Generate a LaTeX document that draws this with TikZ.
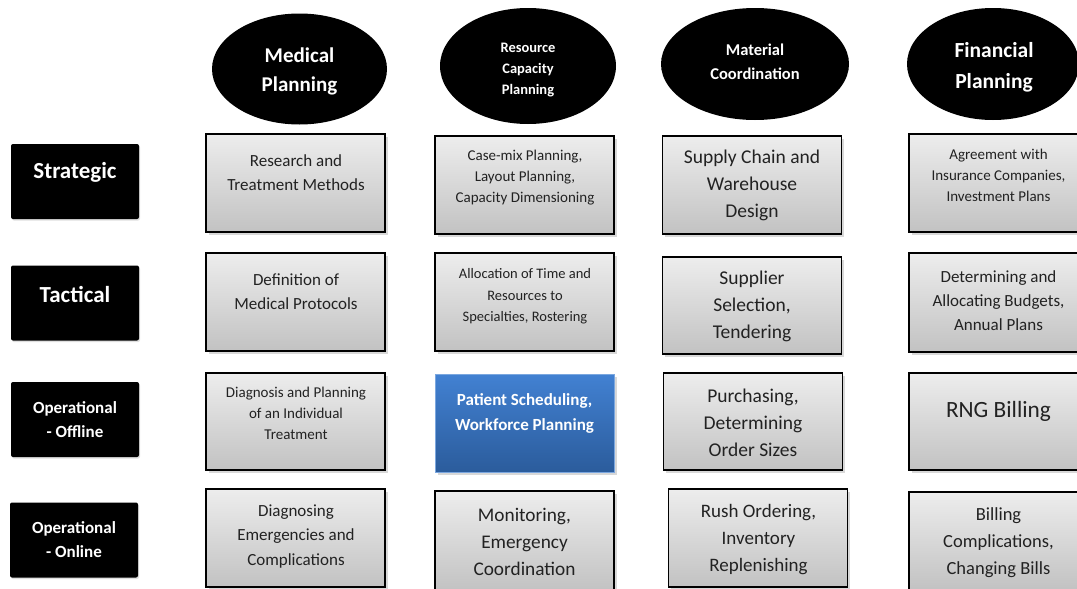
\documentclass[tikz,border=0pt]{standalone}
\usepackage{fontspec}
\setmainfont{Carlito}
\usetikzlibrary{shapes.geometric,shadows}
\definecolor{gtop}{HTML}{EDEDED}
\definecolor{gbot}{HTML}{C2C2C2}
\definecolor{btop}{HTML}{4281D2}
\definecolor{bbot}{HTML}{2B5C9C}
\definecolor{txtc}{HTML}{222222}
\newcommand\fsz[2]{\fontsize{#1}{#2}\selectfont}
\begin{document}
\begin{tikzpicture}[x=1pt,y=-1pt,
  gbox/.style={rectangle, draw=black, line width=1.6pt, top color=gtop, bottom color=gbot,
    minimum width=179pt, minimum height=98pt, inner sep=0pt,
    drop shadow={shadow xshift=2.5pt, shadow yshift=-3pt, opacity=0.3}},
  bbox/.style={rectangle, top color=btop, bottom color=bbot, draw=btop!70!white, line width=0.6pt,
    minimum width=179pt, minimum height=98pt, inner sep=0pt,
    drop shadow={shadow xshift=2.5pt, shadow yshift=-3pt, opacity=0.3}},
  lab/.style={rectangle, rounded corners=2pt, fill=black, minimum width=128pt, minimum height=75pt,
    inner sep=0pt, drop shadow={shadow xshift=1pt, shadow yshift=-1.5pt, opacity=0.25}},
  ell/.style={ellipse, fill=black, inner sep=0pt},
  txt/.style={align=center, text=txtc, inner sep=0pt, yshift=-1.8pt},
  wtxt/.style={align=center, text=white, inner sep=0pt, font=\bfseries, yshift=-1.8pt}]
\useasboundingbox (0,0) rectangle (1077,589);
\fill[white] (0,0) rectangle (1077,589);

% column headers
\node[ell, minimum width=175pt, minimum height=111pt] (e1) at (299.5,69) {};
\node[ell, minimum width=176pt, minimum height=116pt] (e2) at (528,66) {};
\node[ell, minimum width=188pt, minimum height=112pt] (e3) at (755,64) {};
\node[ell, minimum width=172pt, minimum height=112pt] (e4) at (993,64) {};
\node[wtxt, font=\bfseries\fsz{21}{29}] (et1) at (299.5,69.5) {Medical\\Planning};
\node[wtxt, font=\bfseries\fsz{14.5}{21}] (et2) at (528,68) {Resource\\Capacity\\Planning};
\node[wtxt, font=\bfseries\fsz{16.5}{24}] (et3) at (755,60) {Material\\Coordination};
\node[wtxt, font=\bfseries\fsz{21.5}{31}] (et4) at (994,65.5) {Financial\\Planning};

% row labels
\node[lab] (l1) at (75,181.5) {};
\node[lab] (l2) at (75,303) {};
\node[lab] (l3) at (75,419.5) {};
\node[lab] (l4) at (74,540) {};
\node[wtxt, font=\bfseries\fsz{23}{28}] (lt1) at (75,171) {Strategic};
\node[wtxt, font=\bfseries\fsz{23}{28}] (lt2) at (75,293) {Tactical};
\node[wtxt, font=\bfseries\fsz{17}{24}] (lt3) at (75,418) {Operational\\- Offline};
\node[wtxt, font=\bfseries\fsz{17}{24}] (lt4) at (74,538) {Operational\\- Online};

% column 1
\node[gbox] (b11) at (295.5,183) {};
\node[gbox] (b12) at (295.5,302) {};
\node[gbox, minimum height=97pt] (b13) at (295.5,421.5) {};
\node[gbox] (b14) at (295.5,538) {};
\node[txt, font=\fsz{17}{24}] (t11) at (296,171) {Research and\\Treatment Methods};
\node[txt, font=\fsz{17}{24}] (t12) at (296,290) {Definition of\\Medical Protocols};
\node[txt, font=\fsz{15}{21}] (t13) at (296,412) {Diagnosis and Planning\\of an Individual\\Treatment};
\node[txt, font=\fsz{17}{24.5}] (t14) at (296,534.5) {Diagnosing\\Emergencies and\\Complications};

% column 2
\node[gbox] (b21) at (524.5,185) {};
\node[gbox] (b22) at (524.5,302) {};
\node[bbox] (b23) at (524.5,423) {};
\node[gbox, minimum height=100pt] (b24) at (524.5,541) {};
\node[txt, font=\fsz{15}{21}] (t21) at (525,176) {Case-mix Planning,\\Layout Planning,\\Capacity Dimensioning};
\node[txt, font=\fsz{14.5}{21.5}] (t22) at (525,294.5) {Allocation of Time and\\Resources to\\Specialties, Rostering};
\node[wtxt, font=\bfseries\fsz{17}{25}] (t23) at (524.5,411.5) {Patient Scheduling,\\Workforce Planning};
\node[txt, font=\fsz{19.3}{27}] (t24) at (524.5,540) {Monitoring,\\Emergency\\Coordination};

% column 3
\node[gbox] (b31) at (752,185) {};
\node[gbox, minimum height=97pt] (b32) at (752,305.5) {};
\node[gbox, minimum height=97pt] (b33) at (753,421.5) {};
\node[gbox] (b34) at (758,538) {};
\node[txt, font=\fsz{19.5}{27}] (t31) at (752,184) {Supply Chain and\\Warehouse\\Design};
\node[txt, font=\fsz{19.5}{27}] (t32) at (752,305) {Supplier\\Selection,\\Tendering};
\node[txt, font=\fsz{19.5}{27}] (t33) at (753,421) {Purchasing,\\Determining\\Order Sizes};
\node[txt, font=\fsz{19}{27}] (t34) at (758.5,538) {Rush Ordering,\\Inventory\\Replenishing};

% column 4
\node[gbox] (b41) at (998.5,183) {};
\node[gbox, minimum height=99pt] (b42) at (998.5,302.5) {};
\node[gbox, minimum height=97pt] (b43) at (998.5,421.5) {};
\node[gbox] (b44) at (998.5,541) {};
\node[txt, font=\fsz{15}{21}] (t41) at (998.5,174) {Agreement with\\Insurance Companies,\\Investment Plans};
\node[txt, font=\fsz{17}{24}] (t42) at (998.5,299) {Determining and\\Allocating Budgets,\\Annual Plans};
\node[txt, font=\fsz{23.3}{28}] (t43) at (998.5,410) {RNG Billing};
\node[txt, font=\fsz{18.5}{27}] (t44) at (998.5,541) {Billing\\Complications,\\Changing Bills};
\end{tikzpicture}
\end{document}
